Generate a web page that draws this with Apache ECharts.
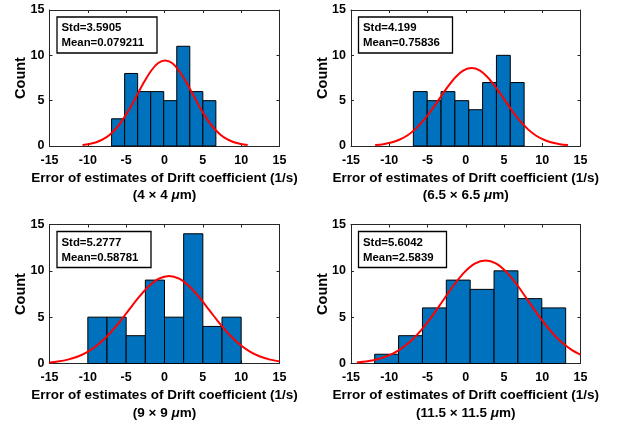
<!DOCTYPE html>
<html>
<head>
<meta charset="utf-8">
<script src="https://cdn.jsdelivr.net/npm/echarts@6/dist/echarts.min.js"></script>
<style>html,body{margin:0;padding:0;background:#fff;}#c{width:620px;height:424px;}</style>
</head>
<body>
<div id="c"></div>
<script>
// ---- data ----
const xTickValues = [-15, -10, -5, 0, 5, 10, 15];
const yTickValues = [0, 5, 10, 15];
const xTitle = 'Error of estimates of Drift coefficient (1/s)';
const sizeLabels = ['4 \u00d7 4', '6.5 \u00d7 6.5', '9 \u00d7 9', '11.5 \u00d7 11.5'];
const stdTexts = ['Std=3.5905', 'Std=4.199', 'Std=5.2777', 'Std=5.6042'];
const meanTexts = ['Mean=0.079211', 'Mean=0.75836', 'Mean=0.58781', 'Mean=2.5839'];

const edges1 = [-6.9, -5.2, -3.5, -1.8, -0.1, 1.6, 3.3, 5.0, 6.7];
const counts1 = [3, 8, 6, 6, 5, 11, 6, 5];
const edges2 = [-6.85, -5.04, -3.23, -1.42, 0.39, 2.2, 4.01, 5.82, 7.63];
const counts2 = [6, 5, 6, 5, 4, 7, 10, 7];
const edges3 = [-10, -7.5, -5, -2.5, 0, 2.5, 5, 7.5, 10];
const counts3 = [5, 5, 3, 9, 5, 14, 4, 5];
const edges4 = [-11.9, -8.78, -5.66, -2.54, 0.58, 3.7, 6.82, 9.94, 13.06];
const counts4 = [1, 3, 6, 9, 8, 10, 7, 6];

const fitX1 = [-10.69,-9.80,-8.90,-8.00,-7.10,-6.20,-5.31,-4.41,-3.51,-2.61,-1.72,-0.82,0.08,0.98,1.87,2.77,3.67,4.57,5.46,6.36,7.26,8.16,9.06,9.95,10.85];
const fitY1 = [0.10,0.22,0.41,0.75,1.28,2.04,3.07,4.32,5.73,7.13,8.33,9.15,9.44,9.15,8.33,7.13,5.73,4.32,3.07,2.04,1.28,0.75,0.41,0.22,0.10];
const fitX2 = [-11.84,-10.79,-9.74,-8.69,-7.64,-6.59,-5.54,-4.49,-3.44,-2.39,-1.34,-0.29,0.76,1.81,2.86,3.91,4.96,6.01,7.06,8.11,9.16,10.21,11.26,12.31,13.36];
const fitY2 = [0.10,0.20,0.38,0.69,1.16,1.86,2.79,3.94,5.22,6.49,7.59,8.34,8.60,8.34,7.59,6.49,5.22,3.94,2.79,1.86,1.16,0.69,0.38,0.20,0.10];
const fitX3 = [-15,-13.93,-12.61,-11.29,-9.97,-8.65,-7.33,-6.01,-4.69,-3.37,-2.05,-0.73,0.59,1.91,3.23,4.55,5.87,7.19,8.51,9.82,11.14,12.46,13.78,15];
const fitY3 = [0.12,0.22,0.42,0.75,1.28,2.04,3.07,4.33,5.73,7.13,8.34,9.16,9.45,9.16,8.34,7.13,5.73,4.33,3.07,2.04,1.28,0.75,0.42,0.23];
const fitX4 = [-14.23,-12.83,-11.43,-10.03,-8.62,-7.22,-5.82,-4.42,-3.02,-1.62,-0.22,1.18,2.58,3.99,5.39,6.79,8.19,9.59,10.99,12.39,13.79,15];
const fitY4 = [0.12,0.25,0.49,0.88,1.50,2.40,3.61,5.09,6.74,8.39,9.81,10.77,11.11,10.77,9.81,8.39,6.74,5.09,3.61,2.40,1.50,0.96];

// ---- build options ----
const panels = [
  {edges: edges1, counts: counts1, fx: fitX1, fy: fitY1},
  {edges: edges2, counts: counts2, fx: fitX2, fy: fitY2},
  {edges: edges3, counts: counts3, fx: fitX3, fy: fitY3},
  {edges: edges4, counts: counts4, fx: fitX4, fy: fitY4}
];
const grids = [
  {left: 49.5, top: 10, width: 230, height: 136},
  {left: 351, top: 10, width: 229.5, height: 136},
  {left: 49.5, top: 224.5, width: 230, height: 139},
  {left: 351, top: 224.5, width: 229.5, height: 139}
];
const FONT = '"Liberation Sans", Arial, Helvetica, sans-serif';
const AX = '#262626';
const xMin = xTickValues[0], xMax = xTickValues[xTickValues.length - 1];
const xStep = xTickValues[1] - xTickValues[0];
const yMin = yTickValues[0], yMax = yTickValues[yTickValues.length - 1];
const yStep = yTickValues[1] - yTickValues[0];

const option = {
  animation: false,
  backgroundColor: '#fff',
  grid: grids.map(g => Object.assign({containLabel: false}, g)),
  xAxis: [], yAxis: [], series: [], title: []
};

panels.forEach((p, i) => {
  option.xAxis.push({
    type: 'value', gridIndex: i, min: xMin, max: xMax, interval: xStep, position: 'bottom',
    axisLine: {show: true, onZero: false, lineStyle: {color: AX, width: 1}},
    axisTick: {show: true, inside: true, length: 3, lineStyle: {color: AX}},
    axisLabel: {color: '#000', fontSize: 12.5, fontWeight: 'bold', fontFamily: FONT, margin: 8},
    splitLine: {show: false},
    name: xTitle + '\n(' + sizeLabels[i] + ' {i|\u03bc}m)',
    nameLocation: 'middle', nameGap: 23.5,
    nameTextStyle: {color: '#000', fontSize: 13.5, fontWeight: 'bold', fontFamily: FONT, lineHeight: 17.5,
      rich: {i: {fontStyle: 'italic', fontWeight: 'bold', fontSize: 13.5, fontFamily: FONT, color: '#000', lineHeight: 17.5}}}
  });
  option.xAxis.push({
    type: 'value', gridIndex: i, min: xMin, max: xMax, interval: xStep, position: 'top',
    axisLine: {show: true, onZero: false, lineStyle: {color: AX, width: 1}},
    axisTick: {show: true, inside: true, length: 3, lineStyle: {color: AX}},
    axisLabel: {show: false}, splitLine: {show: false}
  });
  option.yAxis.push({
    type: 'value', gridIndex: i, min: yMin, max: yMax, interval: yStep, position: 'left',
    axisLine: {show: true, onZero: false, lineStyle: {color: AX, width: 1}},
    axisTick: {show: true, inside: true, length: 3, lineStyle: {color: AX}},
    axisLabel: {color: '#000', fontSize: 12.5, fontWeight: 'bold', fontFamily: FONT, margin: 5},
    splitLine: {show: false},
    name: 'Count', nameLocation: 'middle', nameGap: 21, nameMoveOverlap: false,
    nameTextStyle: {color: '#000', fontSize: 14.5, fontWeight: 'bold', fontFamily: FONT}
  });
  option.yAxis.push({
    type: 'value', gridIndex: i, min: yMin, max: yMax, interval: yStep, position: 'right',
    axisLine: {show: true, onZero: false, lineStyle: {color: AX, width: 1}},
    axisTick: {show: true, inside: true, length: 3, lineStyle: {color: AX}},
    axisLabel: {show: false}, splitLine: {show: false}
  });

  const binData = p.counts.map((c, k) => [p.edges[k], p.edges[k + 1], c]);
  option.series.push({
    type: 'custom', xAxisIndex: 2 * i, yAxisIndex: 2 * i,
    data: binData, encode: {x: [0, 1], y: 2},
    renderItem: function (params, api) {
      const a = api.coord([api.value(0), api.value(2)]);
      const b = api.coord([api.value(1), 0]);
      return {
        type: 'rect',
        shape: {x: a[0], y: a[1], width: b[0] - a[0], height: b[1] - a[1]},
        style: {fill: '#0072BD', stroke: '#000', lineWidth: 1}
      };
    },
    z: 2
  });
  option.series.push({
    type: 'line', xAxisIndex: 2 * i, yAxisIndex: 2 * i,
    data: p.fx.map((x, k) => [x, p.fy[k]]),
    smooth: 0.3, showSymbol: false, symbol: 'none',
    lineStyle: {color: '#FF0000', width: 2}, z: 3
  });

  const g = grids[i];
  option.title.push({
    text: stdTexts[i] + '\n' + meanTexts[i],
    left: g.left + 7, top: g.top + 6.5,
    padding: [4, 13, 3, 5],
    borderColor: '#000', borderWidth: 1.3, backgroundColor: '#fff',
    textStyle: {color: '#000', fontSize: 11.4, fontWeight: 'bold', fontFamily: FONT, lineHeight: 15}
  });
});

const chart = echarts.init(document.getElementById('c'), null, {renderer: 'canvas'});
chart.setOption(option);
</script>
</body>
</html>
